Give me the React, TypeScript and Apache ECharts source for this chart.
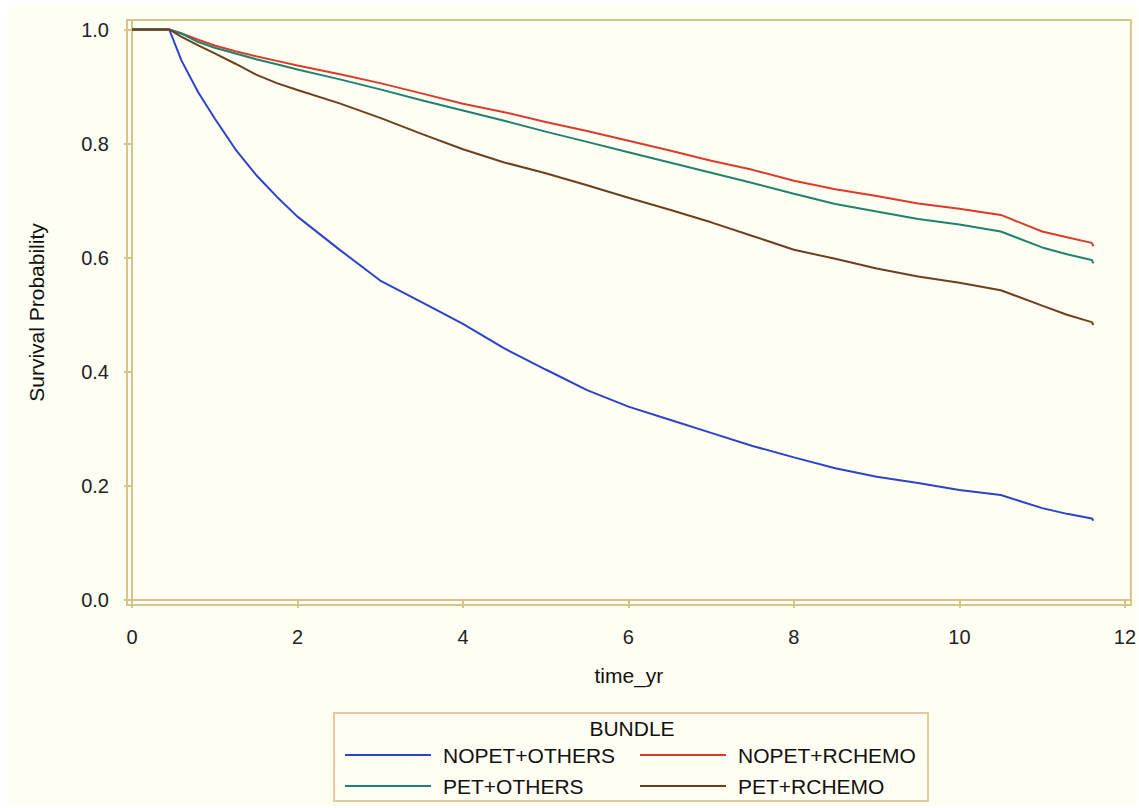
import React, { useEffect, useRef } from "react";
import * as echarts from "echarts";

const times = [0, 0.45, 0.6, 0.8, 1.0, 1.25, 1.5, 1.75, 2.0, 2.5, 3.0, 3.5, 4.0, 4.5, 5.0, 5.5, 6.0, 6.5, 7.0, 7.5, 8.0, 8.5, 9.0, 9.5, 10.0, 10.5, 11.0, 11.3, 11.6, 11.62];

const nopetOthers = [1, 1, 0.945, 0.89, 0.844, 0.79, 0.745, 0.707, 0.672, 0.615, 0.560, 0.522, 0.484, 0.441, 0.404, 0.368, 0.339, 0.316, 0.293, 0.270, 0.250, 0.231, 0.216, 0.205, 0.193, 0.184, 0.161, 0.151, 0.143, 0.139];
const nopetRchemo = [1, 1, 0.993, 0.982, 0.972, 0.962, 0.953, 0.945, 0.937, 0.922, 0.906, 0.888, 0.870, 0.855, 0.838, 0.822, 0.805, 0.788, 0.770, 0.754, 0.735, 0.720, 0.708, 0.695, 0.686, 0.675, 0.646, 0.636, 0.626, 0.620];
const petOthers = [1, 1, 0.993, 0.978, 0.968, 0.958, 0.948, 0.939, 0.930, 0.913, 0.895, 0.876, 0.858, 0.840, 0.821, 0.803, 0.785, 0.767, 0.749, 0.731, 0.712, 0.694, 0.681, 0.668, 0.658, 0.646, 0.618, 0.606, 0.596, 0.590];
const petRchemo = [1, 1, 0.987, 0.972, 0.958, 0.940, 0.921, 0.906, 0.894, 0.871, 0.845, 0.817, 0.790, 0.767, 0.748, 0.727, 0.705, 0.684, 0.662, 0.638, 0.614, 0.598, 0.581, 0.567, 0.556, 0.543, 0.516, 0.500, 0.487, 0.482];

const seriesNames = ["NOPET+OTHERS", "NOPET+RCHEMO", "PET+OTHERS", "PET+RCHEMO"];
const seriesValues = [nopetOthers, nopetRchemo, petOthers, petRchemo];
const seriesColors = ["#2B43CC", "#DC3B2B", "#1F8270", "#6E3F1F"];

const xTicks = [0, 2, 4, 6, 8, 10, 12];
const yTicks = [0, 0.2, 0.4, 0.6, 0.8, 1.0];
const legendTitle = "BUNDLE";
const xTitle = "time_yr";
const yTitle = "Survival Probability";

const FONT = "'Liberation Sans', Arial, sans-serif";
const AXIS_COLOR = "#D6C48C";

export default function App() {
  const ref = useRef<HTMLDivElement>(null);

  useEffect(() => {
    if (!ref.current) return;
    const chart = echarts.init(ref.current, undefined, { renderer: "svg" });

    // plot box: x 127..1133, y 20..605 ; x=0 at 132, x=12 at 1127 ; y=1 at 29.5, y=0 at 600
    const xScale = (1127 - 132) / 12;
    const yScale = (600 - 29.5) / 1;
    const xMin = -(132 - 127) / xScale;
    const xMax = 12 + (1133 - 1127) / xScale;
    const yMin = -(605 - 600) / yScale;
    const yMax = 1 + (29.5 - 20) / yScale;

    const legendCols = [345, 640];
    const legendRows = [755, 786];
    const legendEls: any[] = [
      {
        type: "rect",
        shape: { x: 334, y: 713, width: 594, height: 88 },
        style: { fill: "none", stroke: "#E6C9A0", lineWidth: 2 },
      },
      {
        type: "text",
        x: 632,
        y: 728,
        style: { text: legendTitle, fill: "#111", font: `21px ${FONT}`, align: "center", verticalAlign: "middle" },
      },
    ];
    seriesNames.forEach((name, i) => {
      const col = i % 2 === 0 ? 0 : 1;
      const row = i < 2 ? 0 : 1;
      const lx = legendCols[col];
      const ly = legendRows[row];
      legendEls.push({
        type: "line",
        shape: { x1: lx, y1: ly, x2: lx + 86, y2: ly },
        style: { stroke: seriesColors[i], lineWidth: 2 },
      });
      legendEls.push({
        type: "text",
        x: lx + 98,
        y: ly,
        style: { text: name, fill: "#111", font: `21px ${FONT}`, align: "left", verticalAlign: "middle" },
      });
    });

    chart.setOption({
      animation: false,
      backgroundColor: "transparent",
      textStyle: { fontFamily: FONT },
      grid: {
        left: 127,
        top: 20,
        width: 1133 - 127,
        height: 605 - 20,
        show: true,
        borderColor: AXIS_COLOR,
        borderWidth: 2,
        backgroundColor: "transparent",
        containLabel: false,
      },
      xAxis: {
        type: "value",
        min: xMin,
        max: xMax,
        name: xTitle,
        nameLocation: "middle",
        nameGap: 60,
        nameTextStyle: { fontSize: 21, color: "#111", fontFamily: FONT },
        axisLine: { show: true, lineStyle: { color: AXIS_COLOR, width: 2 } },
        axisTick: { show: true, length: 8, customValues: xTicks, lineStyle: { color: AXIS_COLOR, width: 2 } },
        axisLabel: { customValues: xTicks, fontSize: 20, color: "#222", margin: 22, formatter: (v: number) => String(v) },
        splitLine: { show: false },
      },
      yAxis: {
        type: "value",
        min: yMin,
        max: yMax,
        name: yTitle,
        nameLocation: "middle",
        nameGap: 80,
        nameTextStyle: { fontSize: 21, color: "#111", fontFamily: FONT },
        axisLine: { show: true, lineStyle: { color: AXIS_COLOR, width: 2 } },
        axisTick: { show: true, length: 8, customValues: yTicks, lineStyle: { color: AXIS_COLOR, width: 2 } },
        axisLabel: { customValues: yTicks, fontSize: 20, color: "#222", margin: 18, formatter: (v: number) => v.toFixed(1) },
        splitLine: { show: false },
      },
      graphic: legendEls,
      series: seriesNames.map((name, i) => ({
        name,
        type: "line",
        data: times.map((t, j) => [t, seriesValues[i][j]]),
        showSymbol: false,
        symbol: "none",
        lineStyle: { color: seriesColors[i], width: 2 },
        itemStyle: { color: seriesColors[i] },
        z: 2 + i,
      })),
    });

    return () => chart.dispose();
  }, []);

  return (
    <div style={{ position: "absolute", left: 0, top: 0, width: 1139, height: 808, background: "#ffffff" }}>
      <div style={{ position: "absolute", left: 8, top: 7, width: 1129, height: 799, background: "#FFFEF2" }} />
      <div ref={ref} style={{ position: "absolute", left: 0, top: 0, width: 1139, height: 808 }} />
    </div>
  );
}
